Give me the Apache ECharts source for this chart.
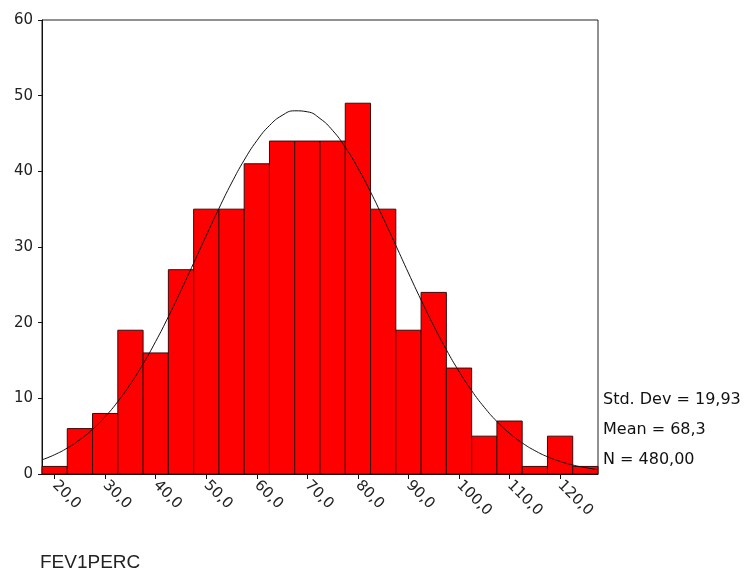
<!DOCTYPE html>
<html>
<head>
<meta charset="utf-8">
<title>FEV1PERC</title>
<script src="https://cdn.jsdelivr.net/npm/echarts@6/dist/echarts.min.js"></script>
<style>
  html, body { margin: 0; padding: 0; background: #ffffff; }
  #chart { width: 748px; height: 573px; }
</style>
</head>
<body>
<div id="chart"></div>
<script>
// Histogram bins (centre of each 5-unit class) and their counts
const binCenters = [20, 25, 30, 35, 40, 45, 50, 55, 60, 65, 70, 75, 80, 85, 90, 95, 100, 105, 110, 115, 120, 125];
const binCounts  = [1, 6, 8, 19, 16, 27, 35, 35, 41, 44, 44, 44, 49, 35, 19, 24, 14, 5, 7, 1, 5, 1];
const binWidth = 5;

// Fitted normal curve, sampled every 2.5 units
const curveX = [17.5, 20, 22.5, 25, 27.5, 30, 32.5, 35, 37.5, 40, 42.5, 45, 47.5, 50, 52.5, 55, 57.5, 60,
                62.5, 65, 67.5, 70, 72.5, 75, 77.5, 80, 82.5, 85, 87.5, 90, 92.5, 95, 97.5, 100, 102.5,
                105, 107.5, 110, 112.5, 115, 117.5, 120, 122.5, 125, 127.5];
const curveY = [1.87, 2.55, 3.43, 4.54, 5.91, 7.58, 9.57, 11.90, 14.56, 17.53, 20.78, 24.26, 27.87, 31.51,
                35.09, 38.45, 41.48, 44.05, 46.05, 47.39, 48.00, 47.87, 46.98, 45.40, 43.18, 40.43, 37.28,
                33.82, 30.21, 26.56, 22.99, 19.58, 16.42, 13.56, 11.02, 8.82, 6.94, 5.38, 4.11, 3.09, 2.28,
                1.66, 1.19, 0.84, 0.58];

// Axis ticks
const xTickValues = [20, 30, 40, 50, 60, 70, 80, 90, 100, 110, 120];
const xMin = 17.5, xMax = 127.5;
const yMin = 0, yMax = 60, yStep = 10;

// Summary statistics
const statLines = ['Std. Dev = 19,93', 'Mean = 68,3', 'N = 480,00'];
const variableName = 'FEV1PERC';

const chart = echarts.init(document.getElementById('chart'), null, { renderer: 'canvas' });

const axisFont = 'DejaVu Sans';

const option = {
  animation: false,
  backgroundColor: '#ffffff',
  grid: {
    left: 42, right: 150, top: 20, bottom: 99,
    show: true, borderColor: '#222222', borderWidth: 1,
    backgroundColor: 'transparent'
  },
  xAxis: {
    type: 'value',
    min: xMin, max: xMax,
    axisLine: { show: true, onZero: false, lineStyle: { color: '#111111', width: 1 } },
    axisTick: { show: true, customValues: xTickValues, length: 5, lineStyle: { color: '#111111' } },
    axisLabel: {
      customValues: xTickValues,
      rotate: -45,
      margin: 9,
      fontFamily: axisFont, fontSize: 15, color: '#222222',
      formatter: v => v.toFixed(1).replace('.', ',')
    },
    splitLine: { show: false }
  },
  yAxis: {
    type: 'value',
    min: yMin, max: yMax, interval: yStep,
    axisLine: { show: true, lineStyle: { color: '#111111', width: 1 } },
    axisTick: { show: true, length: 4, lineStyle: { color: '#111111' } },
    axisLabel: { fontFamily: axisFont, fontSize: 15, color: '#222222', margin: 9 },
    splitLine: { show: false }
  },
  series: [
    {
      type: 'custom',
      data: binCenters.map((c, i) => [c, binCounts[i]]),
      renderItem: function (params, api) {
        const c = api.value(0);
        const v = api.value(1);
        const topLeft = api.coord([c - binWidth / 2, v]);
        const bottomRight = api.coord([c + binWidth / 2, 0]);
        return {
          type: 'rect',
          shape: {
            x: topLeft[0], y: topLeft[1],
            width: bottomRight[0] - topLeft[0],
            height: bottomRight[1] - topLeft[1]
          },
          style: { fill: '#ff0000', stroke: '#3a0a0a', lineWidth: 1 }
        };
      },
      z: 2
    },
    {
      type: 'line',
      data: curveX.map((x, i) => [x, curveY[i]]),
      showSymbol: false,
      smooth: true,
      lineStyle: { color: '#111111', width: 1 },
      z: 3
    }
  ],
  graphic: [
    {
      type: 'group',
      left: 603, top: 392,
      children: statLines.map((t, i) => ({
        type: 'text',
        x: 0, y: i * 30,
        style: { text: t, fontFamily: axisFont, fontSize: 16, fill: '#111111' }
      }))
    },
    {
      type: 'text',
      left: 40, top: 553,
      style: { text: variableName, fontFamily: 'Liberation Sans', fontSize: 19, fill: '#222222' }
    }
  ]
};

chart.setOption(option);
</script>
</body>
</html>
